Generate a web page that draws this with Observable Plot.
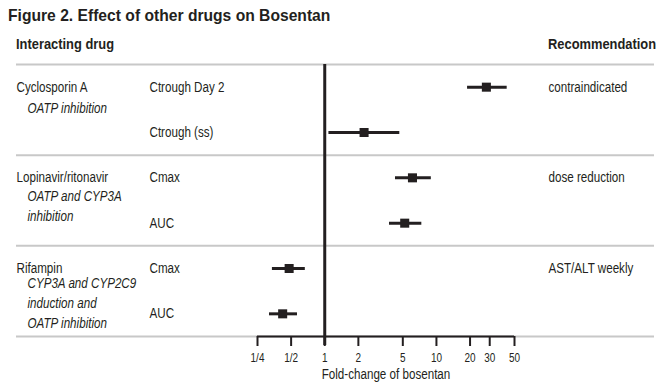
<!DOCTYPE html>
<html>
<head>
<meta charset="utf-8">
<script src="https://cdn.jsdelivr.net/npm/d3@7"></script>
<script src="https://cdn.jsdelivr.net/npm/@observablehq/plot@0.6"></script>
<style>
  html, body { margin: 0; padding: 0; background: #fff; }
  #wrap { position: relative; width: 667px; height: 385px; font-family: "Liberation Sans", Arial, sans-serif; color: #231f20; }
  #wrap svg { position: absolute; left: 0; top: 0; }
  .hdr { position: absolute; white-space: nowrap; font-weight: bold; transform: scaleX(0.92); transform-origin: 0 0; }
  #title { left: 8px; top: 7px; font-size: 17px; line-height: 17px; }
  #h1 { left: 16px; top: 37px; font-size: 14px; line-height: 14px; }
  #h2 { left: 548px; top: 37px; font-size: 14px; line-height: 14px; }
</style>
</head>
<body>
<div id="wrap">
  <div class="hdr" id="title">Figure 2. Effect of other drugs on Bosentan</div>
  <div class="hdr" id="h1">Interacting drug</div>
  <div class="hdr" id="h2">Recommendation</div>
</div>
<script>
// Data
const drugs = ["Cyclosporin A", "Lopinavir/ritonavir", "Rifampin"];
const mechanisms = ["OATP inhibition", "OATP and CYP3A\ninhibition", "CYP3A and CYP2C9\ninduction and\nOATP inhibition"];
const recommendations = ["contraindicated", "dose reduction", "AST/ALT weekly"];
const measures = ["Ctrough Day 2", "Ctrough (ss)", "Cmax", "AUC", "Cmax", "AUC"];
const estimates = [28, 2.25, 6.1, 5.2, 0.48, 0.42];
const lower = [19, 1.09, 4.3, 3.8, 0.34, 0.32];
const upper = [43, 4.7, 9.0, 7.4, 0.67, 0.57];
const tickValues = [0.25, 0.5, 1, 2, 5, 10, 20, 30, 50];
const tickLabels = ["1/4", "1/2", "1", "2", "5", "10", "20", "30", "50"];
const separators = [-0.5, 1.5, 3.5, 5.5];

const rows = measures.map((m, i) => ({row: i, measure: m, est: estimates[i], lo: lower[i], hi: upper[i]}));
const groups = drugs.map((d, i) => ({row: 2 * i, drug: d, mech: mechanisms[i], rec: recommendations[i]}));
const ticks = tickValues.map((v, i) => ({value: v, label: tickLabels[i]}));

const ink = "#231f20";
const font = '"Liberation Sans", Arial, sans-serif';

const chart = Plot.plot({
  width: 667,
  height: 385,
  marginLeft: 257,
  marginRight: 153,
  marginTop: 64,
  marginBottom: 49,
  style: {fontFamily: font, fontSize: "14px", color: ink, background: "transparent", overflow: "visible"},
  x: {type: "log", domain: [0.25, 50]},
  y: {domain: [-0.5, 5.5], reverse: true, axis: null},
  marks: [
    Plot.ruleY(separators, {stroke: "#c8c8c8", strokeWidth: 2, insetLeft: -241, insetRight: -140}),
    Plot.ruleY([separators[separators.length - 1]], {stroke: ink, strokeWidth: 2}),
    Plot.ruleX([1], {stroke: ink, strokeWidth: 3, insetBottom: -9}),
    Plot.axisX({ticks: tickValues, tickFormat: () => "", tickSize: 10, strokeWidth: 2, stroke: ink, fontSize: 14, label: "Fold-change of bosentan", labelAnchor: "center", labelArrow: "none", labelOffset: 42}),
    Plot.text(ticks, {x: "value", text: "label", frameAnchor: "bottom", lineAnchor: "top", dy: 17, fontSize: 12, fill: ink}),
    Plot.ruleY(rows, {y: "row", x1: "lo", x2: "hi", stroke: ink, strokeWidth: 3}),
    Plot.dot(rows, {x: "est", y: "row", symbol: "square", r: 5.1, fill: ink, stroke: "none"}),
    Plot.text(rows, {y: "row", text: "measure", frameAnchor: "left", textAnchor: "start", dx: -108, fill: ink}),
    Plot.text(groups, {y: "row", text: "drug", frameAnchor: "left", textAnchor: "start", dx: -241, fill: ink}),
    Plot.text(groups, {y: "row", text: "rec", frameAnchor: "right", textAnchor: "start", dx: 34, fill: ink}),
    Plot.text(groups.slice(0, 1), {y: "row", text: "mech", frameAnchor: "left", textAnchor: "start", dx: -230, dy: 12, lineAnchor: "top", lineHeight: 1.43, fontStyle: "italic", fill: ink}),
    Plot.text(groups.slice(1, 2), {y: "row", text: "mech", frameAnchor: "left", textAnchor: "start", dx: -230, dy: 9, lineAnchor: "top", lineHeight: 1.43, fontStyle: "italic", fill: ink}),
    Plot.text(groups.slice(2, 3), {y: "row", text: "mech", frameAnchor: "left", textAnchor: "start", dx: -230, dy: 5, lineAnchor: "top", lineHeight: 1.43, fontStyle: "italic", fill: ink})
  ]
});
document.getElementById("wrap").prepend(chart);

// Condense glyphs to mimic a narrow typeface
chart.querySelectorAll("text").forEach((t) => {
  const spans = t.querySelectorAll("tspan");
  const targets = spans.length ? Array.from(spans) : [t];
  targets.forEach((el) => {
    const len = el.getComputedTextLength();
    if (len > 0) {
      el.setAttribute("textLength", (len * 0.83).toFixed(2));
      el.setAttribute("lengthAdjust", "spacingAndGlyphs");
    }
  });
});
</script>
</body>
</html>
